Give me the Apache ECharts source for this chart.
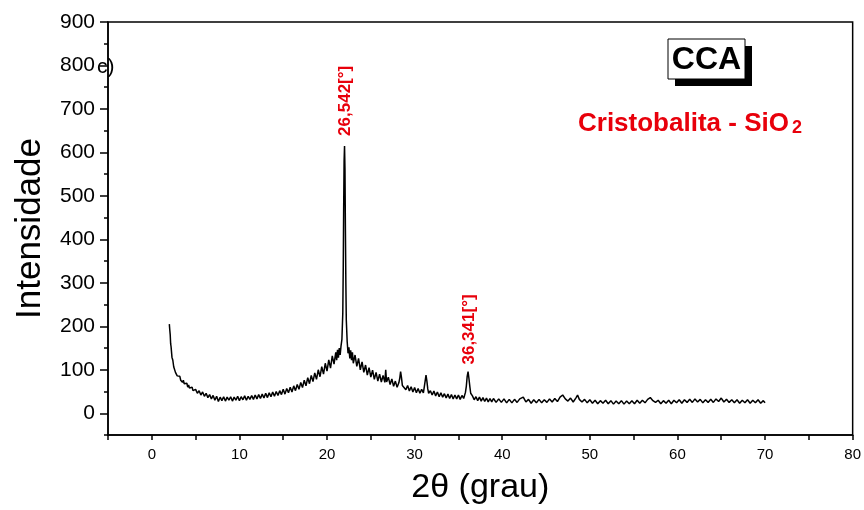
<!DOCTYPE html>
<html>
<head>
<meta charset="utf-8">
<script src="https://cdn.jsdelivr.net/npm/echarts@6/dist/echarts.min.js"></script>
<style>
  html, body { margin: 0; padding: 0; background: #fff; }
  #chart { width: 864px; height: 510px; }
</style>
</head>
<body>
<div id="chart"></div>
<script>
// XRD pattern: [2theta, intensity]
var pattern = [
  [2.0,205],[2.05,192],[2.1,181],[2.15,160],[2.2,153],[2.3,129],[2.4,122],[2.5,107],[2.6,106],[2.7,94],[2.8,96],[2.9,86],[3.0,90],
  [3.1,82],[3.2,85],[3.3,76],[3.4,80],[3.5,71],[3.6,76],[3.7,68],[3.8,72],[3.9,64],[4.0,69],[4.1,60],[4.2,65],[4.3,58],[4.4,62],
  [4.5,54],[4.6,60],[4.7,52],[4.8,56],[4.9,49],[5.0,55],[5.2,46],[5.4,52],[5.6,42],[5.8,49],[6.0,39],[6.2,46],[6.4,36],[6.6,43],
  [6.8,33],[7.0,41],[7.2,30],[7.4,39],[7.6,27],[7.8,37],[8.0,29],[8.2,38],[8.4,28],[8.6,37],[8.8,30],[9.0,38],[9.2,28],[9.4,37],
  [9.6,30],[9.8,39],[10.0,29],[10.2,38],[10.4,31],[10.6,40],[10.8,30],[11.0,39],[11.2,32],[11.4,41],[11.6,32],[11.8,42],[12.0,33],
  [12.2,43],[12.4,34],[12.6,44],[12.8,35],[13.0,46],[13.2,36],[13.4,47],[13.6,38],[13.8,49],[14.0,39],[14.2,50],[14.4,41],[14.6,52],
  [14.8,43],[15.0,55],[15.2,44],[15.4,57],[15.6,47],[15.8,60],[16.0,49],[16.2,63],[16.4,52],[16.6,66],[16.8,55],[17.0,71],[17.2,59],
  [17.4,76],[17.6,63],[17.8,82],[18.0,68],[18.2,87],[18.4,73],[18.6,93],[18.8,78],[19.0,100],[19.2,84],[19.4,107],[19.6,90],
  [19.8,115],[20.0,97],[20.2,123],[20.4,104],[20.6,132],[20.8,113],[21.0,140],[21.1,122],[21.2,146],[21.3,128],[21.4,150],[21.5,134],
  [21.6,155],[21.7,170],[21.8,230],[21.85,330],[21.9,470],[21.95,580],[22.0,615],[22.05,560],[22.1,420],[22.15,300],[22.2,215],
  [22.3,165],[22.4,138],[22.5,152],[22.6,126],[22.7,145],[22.8,122],[22.9,140],[23.0,115],[23.2,134],[23.4,108],[23.6,126],[23.8,100],
  [24.0,118],[24.2,94],[24.4,111],[24.6,88],[24.8,105],[25.0,83],[25.2,99],[25.4,78],[25.6,94],[25.8,74],[26.0,90],[26.2,72],[26.4,87],
  [26.6,71],[26.7,100],[26.8,72],[27.0,83],[27.2,66],[27.4,79],[27.6,62],[27.8,74],[28.0,60],[28.2,70],[28.3,80],[28.4,96],[28.5,82],
  [28.6,64],[28.8,67],[29.0,54],[29.2,64],[29.4,51],[29.6,61],[29.8,49],[30.0,59],[30.2,47],[30.4,57],[30.6,46],[30.8,55],[31.0,47],
  [31.1,60],[31.2,74],[31.3,88],[31.4,74],[31.5,56],[31.6,46],[31.8,52],[32.0,42],[32.2,51],[32.4,40],[32.6,49],[32.8,38],[33.0,47],
  [33.2,37],[33.4,45],[33.6,35],[33.8,44],[34.0,34],[34.2,43],[34.4,33],[34.6,42],[34.8,33],[35.0,42],[35.2,32],[35.4,41],[35.6,34],
  [35.8,48],[35.9,62],[36.0,85],[36.1,96],[36.2,80],[36.3,62],[36.4,46],[36.6,40],[36.8,31],[37.0,38],[37.2,29],[37.4,37],[37.6,28],
  [37.8,36],[38.0,27],[38.2,35],[38.4,26],[38.6,34],[38.8,26],[39.0,34],[39.3,25],[39.6,33],[39.9,25],[40.2,33],[40.5,24],[40.8,32],
  [41.1,24],[41.4,32],[41.7,25],[42.0,33],[42.4,37],[42.7,26],[43.0,32],[43.3,23],[43.6,31],[43.9,24],[44.2,32],[44.5,24],[44.8,31],
  [45.1,25],[45.4,33],[45.7,26],[46.0,34],[46.3,27],[46.6,37],[46.9,42],[47.2,33],[47.5,28],[47.8,35],[48.1,26],[48.4,35],[48.6,42],
  [48.8,32],[49.1,26],[49.4,32],[49.7,24],[50.0,31],[50.3,23],[50.6,30],[50.9,22],[51.2,29],[51.5,23],[51.8,30],[52.1,22],[52.4,29],
  [52.7,21],[53.0,28],[53.3,22],[53.6,29],[53.9,21],[54.2,28],[54.5,22],[54.8,29],[55.1,22],[55.4,30],[55.7,23],[56.0,30],[56.3,24],
  [56.6,32],[56.9,36],[57.2,29],[57.5,25],[57.8,30],[58.1,22],[58.4,29],[58.7,23],[59.0,30],[59.3,22],[59.6,30],[59.9,24],[60.2,31],
  [60.5,23],[60.8,31],[61.1,25],[61.4,32],[61.7,25],[62.0,33],[62.3,26],[62.6,32],[62.9,24],[63.2,31],[63.5,25],[63.8,32],[64.1,25],
  [64.4,33],[64.7,27],[65.0,35],[65.3,26],[65.6,32],[65.9,25],[66.2,31],[66.5,24],[66.8,31],[67.1,23],[67.4,30],[67.7,24],[68.0,31],
  [68.3,23],[68.6,30],[68.9,24],[69.2,31],[69.5,23],[69.8,29],[70.0,24]
];

// peak annotations: [2theta, intensity, text]
var peakLabels = [
  [22.0, 615, "26,542[°]"],
  [36.1, 96, "36,341[°]"]
];

var yTickValues = [0, 100, 200, 300, 400, 500, 600, 700, 800, 900];

var font = "Liberation Sans, Arial, sans-serif";

var chartDom = document.getElementById("chart");
var myChart = echarts.init(chartDom);

var option = {
  animation: false,
  grid: {
    left: 108,
    right: 11,
    top: 22,
    bottom: 74,
    show: true,
    borderColor: "#000",
    borderWidth: 1.5,
  },
  xAxis: [
    {
      type: "value",
      min: -5,
      max: 80,
      interval: 5,
      name: "2θ (grau)",
      nameLocation: "middle",
      nameGap: 36,
      nameTextStyle: { fontFamily: font, fontSize: 34, color: "#000" },
      axisLine: { show: true, onZero: false, lineStyle: { color: "#000", width: 1.5 } },
      axisTick: { show: true, length: 5, lineStyle: { color: "#000", width: 1.5 } },
      axisLabel: {
        fontFamily: font,
        fontSize: 15,
        color: "#000",
        margin: 12,
        formatter: function (v) {
          return v % 10 === 0 ? String(v) : "";
        },
      },
      splitLine: { show: false },
    },
  ],
  yAxis: [
    {
      type: "value",
      min: -50,
      max: 900,
      interval: 50,
      name: "Intensidade",
      nameLocation: "middle",
      nameGap: 60,
      nameTextStyle: { fontFamily: font, fontSize: 35, color: "#000" },
      axisLine: { show: true, onZero: false, lineStyle: { color: "#000", width: 1.5 } },
      axisTick: { show: true, length: 4, lineStyle: { color: "#000", width: 1.5 } },
      axisLabel: {
        fontFamily: font,
        fontSize: 21,
        color: "#000",
        margin: 13,
        customValues: yTickValues,
      },
      splitLine: { show: false },
    },
    {
      type: "value",
      min: -50,
      max: 900,
      interval: 50,
      position: "left",
      axisLine: { show: false, onZero: false },
      axisTick: { show: true, length: 8, customValues: yTickValues, lineStyle: { color: "#000", width: 1.5 } },
      axisLabel: { show: false },
      splitLine: { show: false },
    },
  ],
  series: [
    {
      type: "line",
      data: pattern,
      showSymbol: false,
      symbol: "none",
      lineStyle: { color: "#000", width: 1.5 },
      z: 3,
    },
  ],
};

myChart.setOption(option);

// annotations placed via the chart's own coordinate conversion
var graphics = [];
peakLabels.forEach(function (p, i) {
  var pt = myChart.convertToPixel({ xAxisIndex: 0, yAxisIndex: 0 }, [p[0], p[1]]);
  graphics.push({
    type: "text",
    x: pt[0] + 1,
    y: pt[1] - (i === 0 ? 10 : 7),
    rotation: Math.PI / 2,
    style: {
      text: p[2],
      fill: "#e8000b",
      font: "bold 17px " + font,
      align: "left",
      verticalAlign: "middle",
    },
    z: 10,
  });
});

graphics.push(
  { type: "rect", shape: { x: 675, y: 46, width: 77, height: 40 }, style: { fill: "#000" }, z: 10 },
  { type: "rect", shape: { x: 668, y: 39, width: 77, height: 40 }, style: { fill: "#fff", stroke: "#000", lineWidth: 1 }, z: 11 },
  {
    type: "text",
    x: 706.5,
    y: 60,
    style: { text: "CCA", font: "bold 32px " + font, fill: "#000", align: "center", verticalAlign: "middle" },
    z: 12,
  },
  {
    type: "text",
    x: 578,
    y: 124,
    style: {
      text: "{a|Cristobalita - SiO}{b|2}",
      align: "left",
      verticalAlign: "middle",
      rich: {
        a: { font: "bold 26px " + font, fill: "#e8000b" },
        b: { font: "bold 18px " + font, fill: "#e8000b", padding: [8, 0, 0, 3] },
      },
    },
    z: 12,
  },
  {
    type: "text",
    x: 97,
    y: 67,
    style: { text: "c)", font: "21px " + font, fill: "#000", align: "left", verticalAlign: "middle" },
    z: 12,
  }
);

myChart.setOption({ graphic: graphics });
</script>
</body>
</html>
